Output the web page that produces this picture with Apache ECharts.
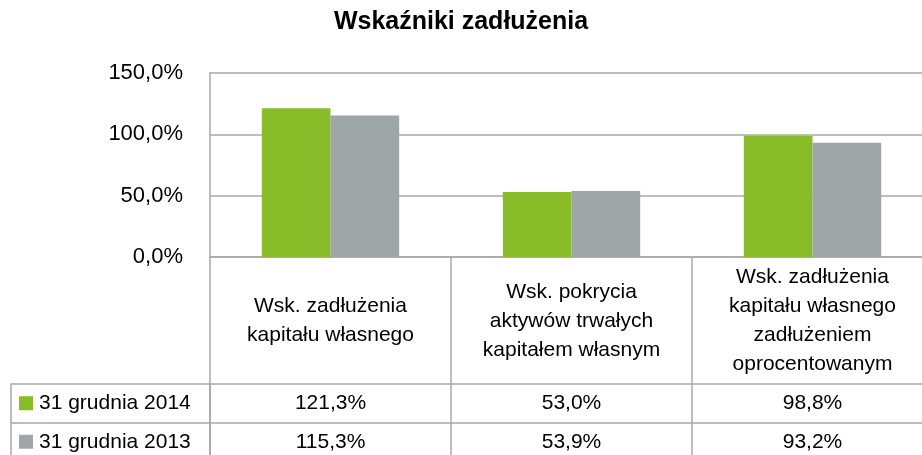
<!DOCTYPE html>
<html lang="pl">
<head>
    <meta charset="UTF-8">
    <title>Wskaźniki zadłużenia</title>
    <script src="https://cdn.jsdelivr.net/npm/echarts@6/dist/echarts.min.js"></script>
    <style>
        html, body { margin: 0; padding: 0; background: #fff; }
        #main { width: 922px; height: 455px; }
    </style>
</head>
<body>
<div id="main"></div>
<script type="text/javascript">
    // dane wykresu
    var categories = [
        'Wsk. zadłużenia\nkapitału własnego',
        'Wsk. pokrycia\naktywów trwałych\nkapitałem własnym',
        'Wsk. zadłużenia\nkapitału własnego\nzadłużeniem\noprocentowanym'
    ];
    var seriesNames = ['31 grudnia 2014', '31 grudnia 2013'];
    var values2014 = [121.3, 53.0, 98.8];
    var values2013 = [115.3, 53.9, 93.2];
    var yTicks = [0, 50, 100, 150];

    var colors = ['#88BC28', '#9FA6A8'];
    var lineColor = '#A8A8A8';
    var font = 'Liberation Sans';

    function pct(v) {
        return v.toFixed(1).replace('.', ',') + '%';
    }

    // komórki tabeli danych: [kolumna, wiersz, wartość]
    var cells = [];
    [values2014, values2013].forEach(function (arr, r) {
        arr.forEach(function (v, i) {
            cells.push([i, r, v]);
        });
    });

    var myChart = echarts.init(document.getElementById('main'));

    var option = {
        animation: false,
        title: {
            text: 'Wskaźniki zadłużenia',
            left: 'center',
            top: 10,
            padding: 0,
            textStyle: {
                fontFamily: font,
                fontSize: 25,
                fontWeight: 'bold',
                color: '#000'
            }
        },
        grid: [
            // wykres słupkowy (wychodzi poza prawą krawędź, jak w oryginale)
            {left: 210, width: 723, top: 73, height: 184, outerBoundsMode: 'none'},
            // kolumny tabeli
            {left: 210, width: 723, top: 257, height: 204, outerBoundsMode: 'none'},
            // wiersze tabeli
            {left: 210, width: 723, top: 384, height: 77, outerBoundsMode: 'none'}
        ],
        xAxis: [
            {
                gridIndex: 0,
                type: 'category',
                data: categories,
                axisLabel: {show: false},
                axisTick: {show: false},
                axisLine: {lineStyle: {color: lineColor, width: 1.5}}
            },
            {
                gridIndex: 1,
                type: 'category',
                data: categories,
                position: 'top',
                axisTick: {show: false},
                axisLine: {lineStyle: {color: lineColor, width: 1.5}},
                splitLine: {show: true, lineStyle: {color: lineColor, width: 1.5}},
                axisLabel: {
                    inside: true,
                    margin: 64,
                    interval: 0,
                    verticalAlign: 'middle',
                    align: 'center',
                    lineHeight: 29,
                    fontFamily: font,
                    fontSize: 21,
                    color: '#000'
                }
            },
            {
                gridIndex: 2,
                type: 'category',
                data: categories,
                show: false
            }
        ],
        yAxis: [
            {
                gridIndex: 0,
                type: 'value',
                min: yTicks[0],
                max: yTicks[yTicks.length - 1],
                interval: yTicks[1] - yTicks[0],
                axisLine: {show: true, lineStyle: {color: lineColor, width: 1.5}},
                axisTick: {show: false},
                splitLine: {lineStyle: {color: lineColor, width: 1.5}},
                axisLabel: {
                    margin: 27,
                    fontFamily: font,
                    fontSize: 22,
                    color: '#000',
                    formatter: function (v) { return pct(v); }
                }
            },
            {
                gridIndex: 1,
                type: 'value',
                show: false
            },
            {
                gridIndex: 2,
                type: 'category',
                data: seriesNames,
                inverse: true,
                axisLine: {show: true, lineStyle: {color: lineColor, width: 1.5}},
                axisTick: {show: true, length: 199, lineStyle: {color: lineColor, width: 1.5}},
                splitLine: {show: true, lineStyle: {color: lineColor, width: 1.5}},
                axisLabel: {
                    margin: 191,
                    align: 'left',
                    verticalAlign: 'middle',
                    fontFamily: font,
                    fontSize: 21,
                    color: '#000',
                    formatter: function (v, i) {
                        return '{sq' + i + '|}{t|' + v + '}';
                    },
                    rich: {
                        sq0: {width: 14, height: 14, backgroundColor: colors[0]},
                        sq1: {width: 14, height: 14, backgroundColor: colors[1]},
                        t: {padding: [0, 0, 0, 6], fontFamily: font, fontSize: 21, color: '#000'}
                    }
                }
            },
            {
                gridIndex: 2,
                type: 'category',
                data: seriesNames,
                inverse: true,
                position: 'left',
                offset: 199,
                axisLine: {show: true, lineStyle: {color: lineColor, width: 1.5}},
                axisTick: {show: false},
                axisLabel: {show: false},
                splitLine: {show: false}
            }
        ],
        series: [
            {
                name: seriesNames[0],
                type: 'bar',
                xAxisIndex: 0,
                yAxisIndex: 0,
                data: values2014,
                barGap: '0%',
                barCategoryGap: '43%',
                itemStyle: {color: colors[0]}
            },
            {
                name: seriesNames[1],
                type: 'bar',
                xAxisIndex: 0,
                yAxisIndex: 0,
                data: values2013,
                barGap: '0%',
                barCategoryGap: '43%',
                itemStyle: {color: colors[1]}
            },
            {
                type: 'custom',
                xAxisIndex: 2,
                yAxisIndex: 2,
                data: cells,
                silent: true,
                renderItem: function (params, api) {
                    var p = api.coord([api.value(0), api.value(1)]);
                    return {
                        type: 'text',
                        x: p[0],
                        y: p[1],
                        style: {
                            text: pct(api.value(2)),
                            fill: '#000',
                            font: '21px "' + font + '"',
                            align: 'center',
                            verticalAlign: 'middle'
                        }
                    };
                }
            }
        ]
    };

    myChart.setOption(option);
</script>
</body>
</html>
